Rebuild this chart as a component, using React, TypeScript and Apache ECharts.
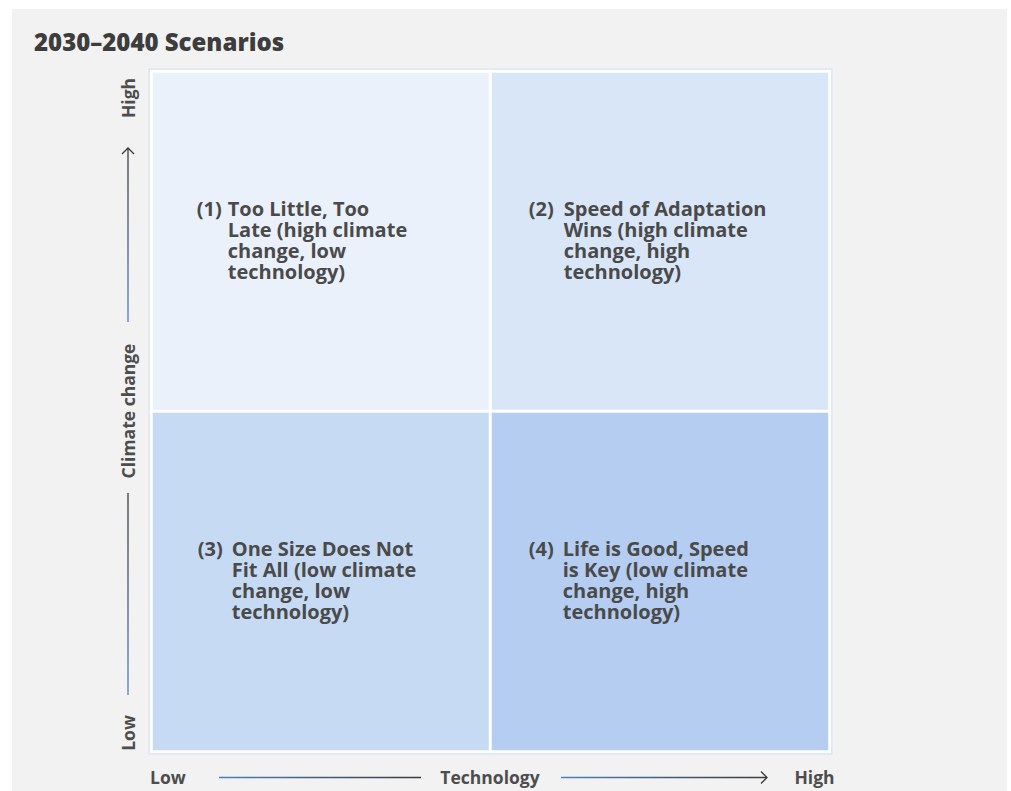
import React, { useEffect, useRef } from "react";
import * as echarts from "echarts";

const title = "2030–2040 Scenarios";
const techLevels = ["Low", "High"];
const climateLevels = ["Low", "High"];
const xAxisName = "Technology";
const yAxisName = "Climate change";

// [techIndex, climateIndex]
const cellPositions = [
  [0, 1],
  [1, 1],
  [0, 0],
  [1, 0],
];
const scenarioNumbers = ["(1)", "(2)", "(3)", "(4)"];
const scenarioLines = [
  ["Too Little, Too", "Late (high climate", "change, low", "technology)"],
  ["Speed of Adaptation", "Wins (high climate", "change, high", "technology)"],
  ["One Size Does Not", "Fit All (low climate", "change, low", "technology)"],
  ["Life is Good, Speed", "is Key (low climate", "change, high", "technology)"],
];
const cellColors = ["#eaf1fb", "#d9e6f7", "#c6daf4", "#b4cdf1"];
const labelOffsets = [47, 40, 48, 40];
const numberWidths = [31, 35, 34, 34];

const FONT = "'Open Sans', sans-serif";
const TEXT = "#4a4a4a";

export default function App() {
  const ref = useRef<HTMLDivElement>(null);
  useEffect(() => {
    if (!ref.current) return;
    const chart = echarts.init(ref.current, null, { renderer: "svg" });

    const data = cellPositions.map((p, i) => {
      const lines = scenarioLines[i].map((l, j) =>
        j === 0 ? `{n${i}|${scenarioNumbers[i]}}{t|${l}}` : `{c${i}|${l}}`
      );
      return {
        value: [p[0], p[1], i + 1],
        label: {
          show: true,
          position: [labelOffsets[i], "50%"],
          offset: [0, -2],
          align: "left",
          verticalAlign: "middle",
          formatter: lines.join("\n"),
        },
      };
    });

    const base = { fontFamily: FONT, fontSize: 20, fontWeight: 700, color: TEXT, lineHeight: 21 };
    const rich: any = { t: { ...base } };
    for (let i = 0; i < 4; i++) {
      rich["n" + i] = { ...base, width: numberWidths[i] };
      rich["c" + i] = { ...base, padding: [0, 0, 0, numberWidths[i]] };
    }

    const blue = "#4f7fc4";
    const dark = "#3a3a3a";
    const hGrad = (x1: number, x2: number) =>
      new echarts.graphic.LinearGradient(x1, 0, x2, 0, [
        { offset: 0, color: blue },
        { offset: 1, color: dark },
      ], true);
    const vGrad = (yBottom: number, yTop: number) =>
      new echarts.graphic.LinearGradient(0, yBottom, 0, yTop, [
        { offset: 0, color: blue },
        { offset: 1, color: dark },
      ], true);

    const axisText = { fontFamily: FONT, fontSize: 17.5, fontWeight: 700, fill: "#4d4d4d" };

    chart.setOption({
      animation: false,
      backgroundColor: "#ffffff",
      grid: { left: 151.5, right: 1011 - 829.5, top: 71.5, bottom: 39.5 },
      xAxis: { type: "category", data: techLevels, show: false },
      yAxis: { type: "category", data: climateLevels, show: false },
      visualMap: {
        show: false,
        type: "piecewise",
        dimension: 2,
        pieces: cellColors.map((c, i) => ({ value: i + 1, color: c })),
      },
      graphic: [
        { type: "rect", z: -10, shape: { x: 12, y: 9, width: 995, height: 782 }, style: { fill: "#f2f2f2" } },
        { type: "rect", z: -5, shape: { x: 148.5, y: 68.5, width: 684, height: 686 }, style: { fill: "#d3e1f5" } },
        {
          type: "text", left: 34, top: 29,
          style: { text: title, fontFamily: FONT, fontSize: 24, fontWeight: 800, fill: "#3d3d3d" },
        },
        // x axis annotation
        { type: "text", x: 150, y: 777, style: { ...axisText, text: techLevels[0], verticalAlign: "middle", align: "left" } },
        { type: "text", x: 490, y: 777, style: { ...axisText, text: xAxisName, verticalAlign: "middle", align: "center" } },
        { type: "text", x: 814.5, y: 777, style: { ...axisText, text: techLevels[1], verticalAlign: "middle", align: "center" } },
        { type: "line", shape: { x1: 219, y1: 777.5, x2: 421, y2: 777.5 }, style: { stroke: hGrad(219, 421), lineWidth: 1.3 } },
        { type: "line", shape: { x1: 561, y1: 777.5, x2: 767, y2: 777.5 }, style: { stroke: hGrad(561, 767), lineWidth: 1.3 } },
        { type: "polyline", shape: { points: [[761, 771.5], [767, 777.5], [761, 783.5]] }, style: { stroke: dark, lineWidth: 1.3, fill: "none" } },
        // y axis annotation
        { type: "text", x: 128, y: 733, rotation: Math.PI / 2, style: { ...axisText, text: climateLevels[0], verticalAlign: "middle", align: "center" } },
        { type: "text", x: 128, y: 411, rotation: Math.PI / 2, style: { ...axisText, text: yAxisName, verticalAlign: "middle", align: "center" } },
        { type: "text", x: 128, y: 98, rotation: Math.PI / 2, style: { ...axisText, text: climateLevels[1], verticalAlign: "middle", align: "center" } },
        { type: "line", shape: { x1: 128, y1: 148, x2: 128, y2: 322 }, style: { stroke: vGrad(322, 148), lineWidth: 1.3 } },
        { type: "line", shape: { x1: 128, y1: 493, x2: 128, y2: 695 }, style: { stroke: vGrad(695, 493), lineWidth: 1.3 } },
        { type: "polyline", shape: { points: [[122, 154], [128, 148], [134, 154]] }, style: { stroke: dark, lineWidth: 1.3, fill: "none" } },
      ],
      series: [
        {
          type: "heatmap",
          data,
          itemStyle: { borderColor: "#ffffff", borderWidth: 3 },
          label: { show: true, rich },
          emphasis: { disabled: true },
        },
      ],
    });
    return () => chart.dispose();
  }, []);

  return (
    <div
      ref={ref}
      style={{ position: "absolute", left: 0, top: 0, width: 1011, height: 791 }}
    />
  );
}
